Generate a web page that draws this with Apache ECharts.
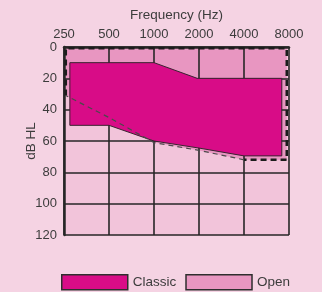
<!DOCTYPE html>
<html>
<head>
<meta charset="utf-8">
<script src="https://cdn.jsdelivr.net/npm/echarts@6/dist/echarts.min.js"></script>
<style>
  html, body { margin: 0; padding: 0; background: #f5d3e3; }
  #chart { width: 322px; height: 292px; }
</style>
</head>
<body>
<div id="chart"></div>
<script>
// x positions are octaves above 250 Hz (0 = 250, 5 = 8000)
const freqLabels = ["250", "500", "1000", "2000", "4000", "8000"];
const dbTicks = [0, 20, 40, 60, 80, 100, 120];

// Classic fitting range, polygon [octave, dB HL]
const classicRange = [
  [0.13, 10], [2, 10], [2.96, 20], [4.84, 20], [4.84, 69.5],
  [4, 69.5], [3, 64.5], [2, 60], [1, 50], [0.13, 50],
];
// Open fitting range, polygon [octave, dB HL]
const openRange = [
  [0.04, 0.8], [4.95, 0.8], [4.95, 72], [4, 72],
  [3, 66], [2, 61], [1, 45], [0.04, 31],
];
// dashed outline of the open range, split in heavy and light parts
const openEdgeHeavy = [[0.04, 31], [0.04, 0.8], [4.95, 0.8], [4.95, 72], [4, 72]];
const openEdgeLight = [[4, 72], [3, 66], [2, 61], [1, 45], [0.04, 31]];

const chart = echarts.init(document.getElementById("chart"));

function shapeSeries(name, data, kind, style, z) {
  return {
    name: name,
    type: "custom",
    z: z,
    silent: true,
    data: data,
    encode: { x: 0, y: 1 },
    itemStyle: { color: style.fill || style.stroke },
    renderItem: (params, api) => {
      if (params.dataIndex !== 0) return;
      const pts = data.map((p) => api.coord(p));
      return { type: kind, shape: { points: pts }, style: style };
    },
  };
}

const textColor = "#3c3c3c";
const lineColor = "#262626";

chart.setOption({
  backgroundColor: "#f5d3e3",
  textStyle: { fontFamily: "Liberation Sans, Arial, sans-serif" },
  grid: {
    left: 64, top: 47, width: 225, height: 188,
    show: true, backgroundColor: "#f2c4da", borderWidth: 0,
  },
  xAxis: {
    type: "value",
    position: "top",
    min: 0, max: 5, interval: 1,
    z: 2,
    name: "Frequency (Hz)",
    nameLocation: "middle",
    nameGap: 25,
    nameTextStyle: { color: textColor, fontSize: 13.5 },
    axisLine: { show: true, lineStyle: { color: lineColor, width: 2.5 } },
    axisTick: { show: false },
    axisLabel: {
      color: textColor, fontSize: 13, margin: 6,
      formatter: (v) => freqLabels[Math.round(v)],
    },
    splitLine: { show: true, lineStyle: { color: lineColor, width: 1.6 } },
  },
  yAxis: {
    type: "value",
    inverse: true,
    min: dbTicks[0], max: dbTicks[dbTicks.length - 1], interval: 20,
    z: 2,
    name: "dB HL",
    nameLocation: "middle",
    nameGap: 26,
    nameMoveOverlap: false,
    nameRotate: 90,
    nameTextStyle: { color: textColor, fontSize: 13.5 },
    axisLine: { show: true, lineStyle: { color: lineColor, width: 2.5 } },
    axisTick: { show: false },
    axisLabel: { color: textColor, fontSize: 13, margin: 7 },
    splitLine: { show: true, lineStyle: { color: lineColor, width: 1.6 } },
  },
  legend: {
    left: 56, top: 269,
    itemWidth: 66, itemHeight: 15, itemGap: 9,
    textStyle: { color: textColor, fontSize: 13.5 },
    data: [
      { name: "Classic", icon: "rect", itemStyle: { color: "#d80c87", borderColor: "#2e2e2e", borderWidth: 1.5 } },
      { name: "Open", icon: "rect", itemStyle: { color: "#e896c1", borderColor: "#2e2e2e", borderWidth: 1.5 } },
    ],
  },
  series: [
    shapeSeries("Open", openRange, "polygon", { fill: "#e896c1" }, 1),
    shapeSeries("Classic", classicRange, "polygon", { fill: "#d80c87", stroke: "#3a2230", lineWidth: 1 }, 3),
    shapeSeries("OpenEdge", openEdgeHeavy, "polyline", { fill: null, stroke: "#1c1c1c", lineWidth: 2.5, lineDash: [6, 4] }, 4),
    shapeSeries("OpenEdge2", openEdgeLight, "polyline", { fill: null, stroke: "#4a4a4a", lineWidth: 1.2, lineDash: [5, 4] }, 4),
  ],
});
</script>
</body>
</html>
